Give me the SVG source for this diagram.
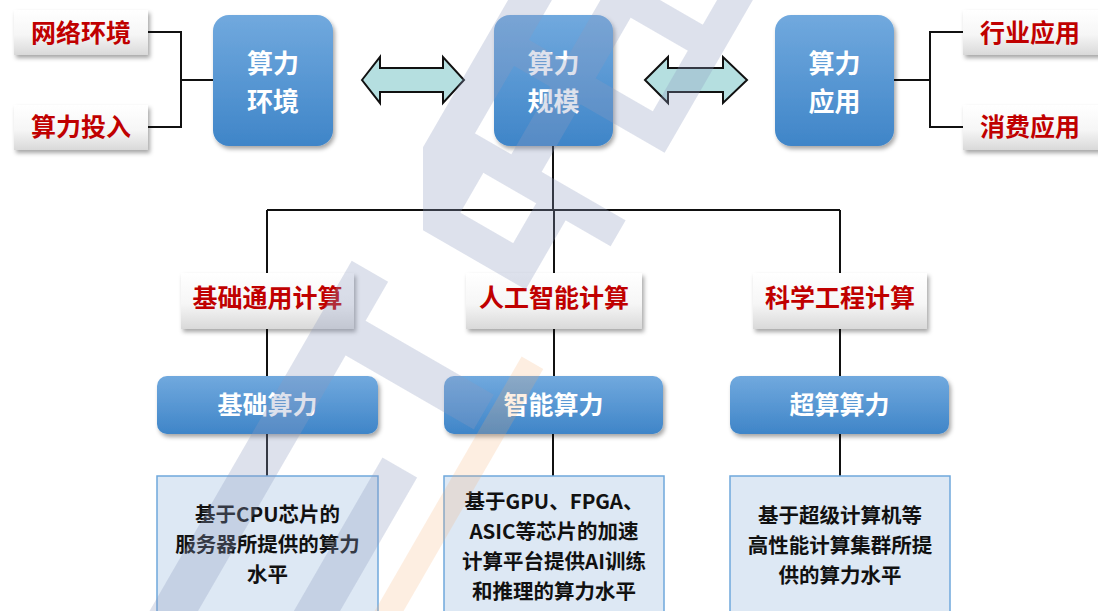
<svg xmlns="http://www.w3.org/2000/svg" width="1098" height="611" viewBox="0 0 1098 611">
<defs>
<linearGradient id="gBlue" x1="0" y1="0" x2="0" y2="1"><stop offset="0" stop-color="#71a9de"/><stop offset="1" stop-color="#3f85c8"/></linearGradient>
<linearGradient id="gWhite" x1="0" y1="0" x2="0" y2="1"><stop offset="0" stop-color="#ffffff"/><stop offset="0.55" stop-color="#f6f6f6"/><stop offset="1" stop-color="#d9d9d9"/></linearGradient>
<filter id="sh" x="-20%" y="-20%" width="140%" height="150%"><feDropShadow dx="2" dy="3" stdDeviation="2" flood-color="#000" flood-opacity="0.35"/></filter>
<clipPath id="wmclip"><rect x="423" y="0" width="675" height="611"/></clipPath>
<style>
.conn{stroke:#111;stroke-width:2;fill:none}
.lbl{fill:url(#gWhite);filter:url(#sh)}
.big{fill:url(#gBlue);filter:url(#sh)}
.desc{fill:#dde8f4;stroke:#6fa8dc;stroke-width:1.5}
text{font-family:"Noto Sans CJK SC","Noto Sans",sans-serif;font-weight:700;text-anchor:middle}
.tr{fill:#c00000;font-size:25px}
.tw{fill:#ffffff;font-size:26px}
.tc{fill:#ffffff;font-size:25px}
.td{fill:#111111;font-size:20.5px}
.arr{fill:#b5dfe0;stroke:#111;stroke-width:2;stroke-linejoin:miter}
</style>
</defs>
<rect width="1098" height="611" fill="#ffffff"/>

<g id="connectors">
<path class="conn" d="M148,32 H181 V127 H148 M181,80 H213"/>
<path class="conn" d="M894,80 H930 M963,32 H930 V127 H963"/>
<path class="conn" d="M553,146 V210 M267,210 H840 M267,210 V273 M554,210 V273 M840,210 V273"/>
<path class="conn" d="M267,329 V376 M267,434 V476 M554,329 V376 M553,434 V476 M840,329 V376 M840,434 V476"/>
<polygon class="arr" points="362,80 380,57 380,68 443,68 443,57 464,80 443,103 443,92 380,92 380,103"/>
<polygon class="arr" points="645,80 668,57 668,68 723,68 723,57 747,80 723,103 723,92 668,92 668,103"/>
</g>

<g id="n-wangluo"><rect class="lbl" x="14" y="10" width="134" height="45"/><text class="tr" x="81" y="42">网络环境</text></g>
<g id="n-touru"><rect class="lbl" x="14" y="105" width="134" height="45"/><text class="tr" x="81" y="136">算力投入</text></g>
<g id="n-hangye"><rect class="lbl" x="963" y="10" width="140" height="45"/><text class="tr" x="1030" y="42">行业应用</text></g>
<g id="n-xiaofei"><rect class="lbl" x="963" y="105" width="140" height="45"/><text class="tr" x="1030" y="136">消费应用</text></g>

<g id="n-huanjing"><rect class="big" x="213" y="15" width="120" height="131" rx="16"/><text class="tw" x="273" y="73">算力<tspan x="273" dy="38">环境</tspan></text></g>
<g id="n-guimo"><rect class="big" x="494" y="15" width="119" height="131" rx="16"/><text class="tw" x="553.5" y="73">算力<tspan x="553.5" dy="38">规模</tspan></text></g>
<g id="n-yingyong"><rect class="big" x="775" y="15" width="119" height="131" rx="16"/><text class="tw" x="834.5" y="73">算力<tspan x="834.5" dy="38">应用</tspan></text></g>

<g id="n-jichutongyong"><rect class="lbl" x="181" y="273" width="173" height="56"/><text class="tr" x="267.5" y="307">基础通用计算</text></g>
<g id="n-rengong"><rect class="lbl" x="466" y="273" width="176" height="56"/><text class="tr" x="554" y="307">人工智能计算</text></g>
<g id="n-kexue"><rect class="lbl" x="753" y="273" width="174" height="56"/><text class="tr" x="840" y="307">科学工程计算</text></g>

<g id="n-jichusuanli"><rect class="big" x="157" y="376" width="221" height="58" rx="10"/><text class="tc" x="267.5" y="414">基础算力</text></g>
<g id="n-zhineng"><rect class="big" x="444" y="376" width="219" height="58" rx="10"/><text class="tc" x="553.5" y="414">智能算力</text></g>
<g id="n-chaosuan"><rect class="big" x="730" y="376" width="219" height="58" rx="10"/><text class="tc" x="839.5" y="414">超算算力</text></g>

<g id="n-desc1"><rect class="desc" x="157" y="476" width="221" height="150"/>
<text class="td" x="267.5" y="522">基于CPU芯片的<tspan x="267.5" dy="30">服务器所提供的算力</tspan><tspan x="267.5" dy="30">水平</tspan></text></g>
<g id="n-desc2"><rect class="desc" x="444" y="476" width="220" height="150"/>
<text class="td" x="554" y="509">基于GPU、FPGA、<tspan x="554" dy="30">ASIC等芯片的加速</tspan><tspan x="554" dy="30">计算平台提供AI训练</tspan><tspan x="554" dy="30">和推理的算力水平</tspan></text></g>
<g id="n-desc3"><rect class="desc" x="730" y="476" width="220" height="150"/>
<text class="td" x="840" y="523">基于超级计算机等<tspan x="840" dy="30">高性能计算集群所提</tspan><tspan x="840" dy="30">供的算力水平</tspan></text></g>

<g id="watermark" pointer-events="none">
<g opacity="0.3" fill="#8e9bbf">
<g clip-path="url(#wmclip)"><g transform="rotate(30)">
<rect x="440" y="-420" width="38" height="408"/>
<rect x="440" y="-122" width="212" height="30"/>
<rect x="478" y="-46" width="122" height="34"/>
<rect x="478" y="-92" width="27" height="46"/>
<rect x="566" y="-92" width="34" height="46"/>
<rect x="520" y="-420" width="35" height="298"/>
<rect x="621" y="-420" width="31" height="202"/>
<rect x="440" y="-230" width="212" height="30"/>
<rect x="440" y="-330" width="212" height="30"/>
</g></g>
<g transform="rotate(30)">
<rect x="435" y="50" width="42" height="450"/>
<rect x="477" y="95" width="148" height="40"/>
<rect x="560" y="205" width="40" height="250"/>
</g>
</g>
<g transform="rotate(30)"><rect x="630" y="48" width="25" height="350" fill="#f3a96b" opacity="0.2"/></g>
</g>
</svg>
